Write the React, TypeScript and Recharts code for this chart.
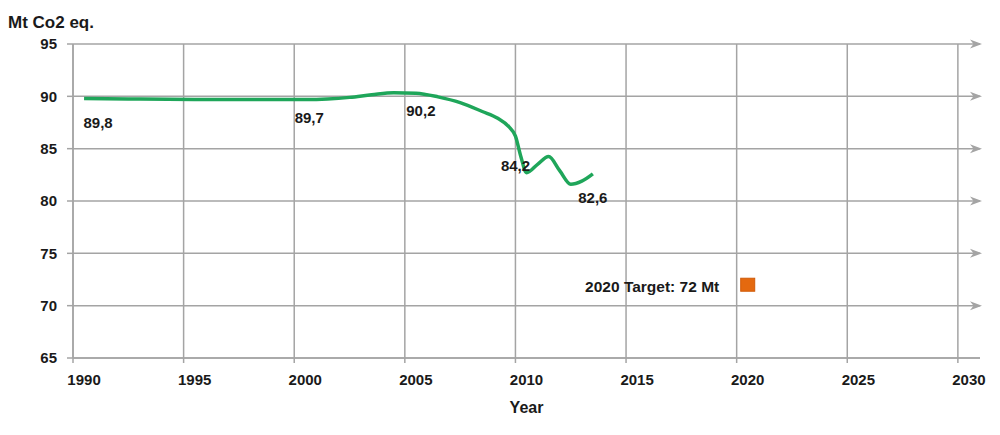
import { ComposedChart, Line, Scatter, XAxis, YAxis, CartesianGrid, ReferenceLine } from 'recharts';

// emissions curve as drawn (Mt CO2 eq.)
const years = [1990, 1992, 1995, 1998, 2000, 2001, 2002, 2003, 2004, 2005, 2006, 2007, 2008, 2008.7, 2009.2, 2009.5, 2009.75, 2010, 2010.5, 2011, 2011.5, 2012, 2012.5, 2013];
const emissions = [89.8, 89.75, 89.7, 89.7, 89.7, 89.75, 89.9, 90.15, 90.35, 90.3, 89.95, 89.4, 88.55, 87.9, 87.1, 86.2, 84.2, 82.7, 83.5, 84.25, 82.9, 81.6, 81.9, 82.6];

// annotated values
const labelYears = [1990, 2000, 2005, 2010, 2013];
const labelValues = [89.8, 89.7, 90.2, 84.2, 82.6];

// target
const targetYear = 2020;
const targetValue = 72;

const xTicks = [1990, 1995, 2000, 2005, 2010, 2015, 2020, 2025, 2030];
const yTicks = [65, 70, 75, 80, 85, 90, 95];
const arrowTicks = [70, 75, 80, 85, 90, 95];

const lineData = years.map((year, i) => ({ year, value: emissions[i] }));
const labelData = labelYears.map((year, i) => ({ year, value: labelValues[i] }));
const targetData = [{ year: targetYear, value: targetValue }];
// category boundaries: gridlines sit half a year before each labelled year
const gridTicks = xTicks.map((t) => t - 0.5);

const FONT = '"Liberation Sans", Arial, sans-serif';
const GRID = '#a4a4a4';
const TEXT = '#1a1a1a';
const HALF_YEAR_PX = 11.06;

// label nudges [dx, dy] relative to the point
const nudges = [
  [14, 30],
  [4, 24],
  [5, 22],
  [-11, 14],
  [0, 29],
];

const ArrowHead = (props: any) => {
  const { x, y, width } = props.viewBox || {};
  if (x == null) return null;
  const tip = x + width + 2;
  return <path d={`M${tip},${y} L${tip - 12},${y - 4.5} L${tip - 8.5},${y} L${tip - 12},${y + 4.5} Z`} fill={GRID} />;
};

const XTick = (props: any) => {
  const { x, y, payload } = props;
  return (
    <text x={x + HALF_YEAR_PX} y={y} dy="0.71em" textAnchor="middle" fontFamily={FONT} fontSize={15} fontWeight="bold" fill={TEXT}>
      {payload.value + 0.5}
    </text>
  );
};

const YTitle = (props: any) => {
  const { x, y } = props.viewBox || {};
  return (
    <text x={x + 8} y={y - 16} fontFamily={FONT} fontSize={17} fontWeight="bold" fill={TEXT}>
      Mt Co2 eq.
    </text>
  );
};

const XTitle = (props: any) => {
  const { x, y, width } = props.viewBox || {};
  return (
    <text x={x + width / 2} y={y + 55} textAnchor="middle" fontFamily={FONT} fontSize={16} fontWeight="bold" fill={TEXT}>
      Year
    </text>
  );
};

const ValueLabel = (props: any) => {
  const { cx, cy, payload } = props;
  const i = labelYears.indexOf(payload.year);
  const [dx, dy] = nudges[i] || [0, 0];
  return (
    <text x={cx + dx} y={cy + dy} textAnchor="middle" fontFamily={FONT} fontSize={15} fontWeight="bold" fill={TEXT}>
      {payload.value.toFixed(1).replace('.', ',')}
    </text>
  );
};

const TargetMark = (props: any) => {
  const { cx, cy, payload } = props;
  return (
    <g>
      <rect x={cx - 7} y={cy - 6.5} width={14} height={13} fill="#e4690f" stroke="#d05a08" strokeWidth={1} />
      <text x={cx - 28.5} y={cy + 7} textAnchor="end" fontFamily={FONT} fontSize={15.5} fontWeight="bold" fill={TEXT}>
        {`${payload.year} Target: ${payload.value} Mt`}
      </text>
    </g>
  );
};

export default function App() {
  return (
    <div style={{ position: 'absolute', left: 0, top: 0, width: 1000, height: 435, background: '#fff' }}>
      <ComposedChart width={1000} height={435} margin={{ top: 44, right: 20, bottom: 37, left: 0 }}>
        <XAxis
          type="number"
          dataKey="year"
          domain={[1989.5, 2030.5]}
          ticks={gridTicks}
          interval={0}
          tickSize={5}
          tickMargin={11}
          tickLine={{ stroke: GRID, strokeWidth: 1.5 }}
          axisLine={{ stroke: GRID, strokeWidth: 1.5 }}
          tick={<XTick />}
          height={40}
          label={<XTitle />}
        />
        <YAxis
          type="number"
          domain={[65, 95]}
          ticks={yTicks}
          interval={0}
          width={73}
          tickSize={6}
          tickMargin={10}
          tickLine={{ stroke: GRID, strokeWidth: 1.5 }}
          axisLine={{ stroke: GRID, strokeWidth: 1.5 }}
          tick={{ fontFamily: FONT, fontSize: 15, fontWeight: 'bold', fill: TEXT }}
          label={<YTitle />}
        />
        <CartesianGrid stroke={GRID} strokeWidth={1.5} syncWithTicks />
        {arrowTicks.map((v) => (
          <ReferenceLine key={v} y={v} strokeOpacity={0} label={<ArrowHead />} />
        ))}
        <Line
          data={lineData}
          dataKey="value"
          type="monotone"
          stroke="#1fa65a"
          strokeWidth={3.5}
          dot={false}
          isAnimationActive={false}
        />
        <Scatter data={labelData} dataKey="value" shape={<ValueLabel />} isAnimationActive={false} />
        <Scatter data={targetData} dataKey="value" shape={<TargetMark />} isAnimationActive={false} />
      </ComposedChart>
    </div>
  );
}
